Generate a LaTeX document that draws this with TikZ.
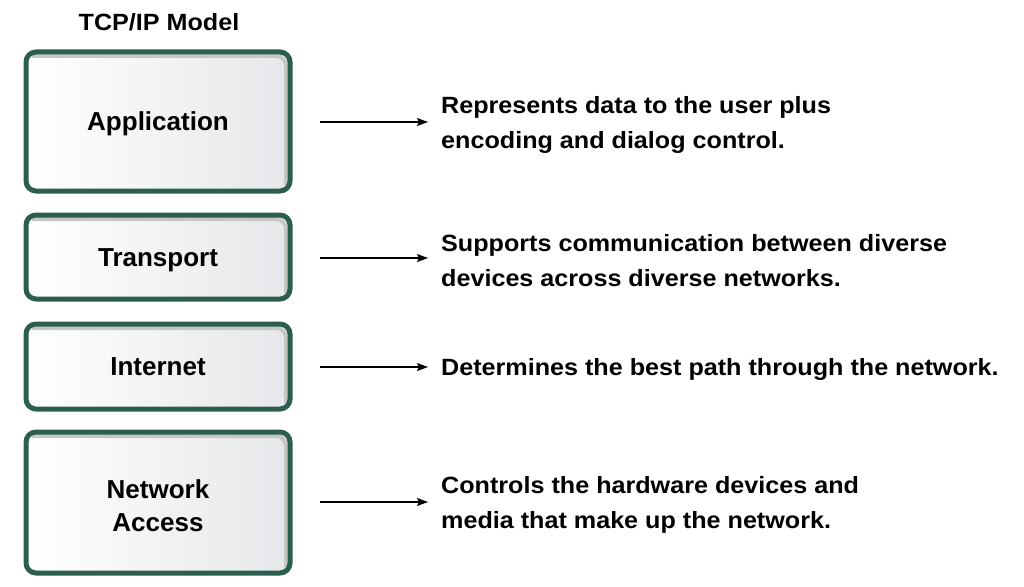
\documentclass[tikz,border=0pt]{standalone}
\usepackage{fontspec}
\setmainfont{Liberation Sans}
\newfontfamily\widesans[FakeStretch=1.07]{Liberation Sans}
\usepackage{tikz}
\usetikzlibrary{arrows.meta,positioning,calc}
\definecolor{layergreen}{RGB}{44,94,80}
\definecolor{layerfill}{RGB}{230,231,234}
\tikzset{%
	layer/.style = {draw=layergreen, line width=5pt, rounded corners=10pt, minimum width=264pt, left color=white, right color=layerfill, align=center, text height=18.5pt, text depth=0pt, font=\fontsize{26}{33}\selectfont\bfseries,
		path picture={\draw[gray!45, line width=4pt] ([shift={(6pt,-4pt)}]path picture bounding box.north west) -- ([shift={(-4pt,-4pt)}]path picture bounding box.north east) -- ([shift={(-4pt,6pt)}]path picture bounding box.south east);}},
	desc/.style  = {anchor=west, inner sep=0pt, align=left, font=\widesans\fontsize{23.5}{35}\selectfont\bfseries},
	arrow/.style = {line width=1.2pt, -{Stealth[length=11pt,width=8pt,inset=2pt]}, shorten >=13pt},
}
\begin{document}
\begin{tikzpicture}[x=1pt,y=-1pt]
	\useasboundingbox (0,0) rectangle (1024,586);
	\node[font=\widesans\fontsize{23.5}{28}\selectfont\bfseries] (title) at (159,22) {TCP/IP Model};
	% layers
	\node[layer, minimum height=139pt] (app) at (158,121.5) {Application};
	\node[layer, minimum height=84pt] (trans) at (158,257) {Transport};
	\node[layer, minimum height=85pt] (inet) at (158,366.5) {Internet};
	\node[layer, minimum height=141pt, text height=57pt] (netacc) at (158,502.5) {Network\\Access};
	% descriptions
	\node[desc] (appdesc) at (441,124.5) {Represents data to the user plus\\encoding and dialog control.};
	\node[desc] (transdesc) at (441,260.5) {Supports communication between diverse\\devices across diverse networks.};
	\node[desc] (inetdesc) at (441,369.5) {Determines the best path through the network.};
	\node[desc] (netaccdesc) at (441,504.5) {Controls the hardware devices and\\media that make up the network.};
	\coordinate (appout) at (320,122);
	\coordinate (transout) at (320,258);
	\coordinate (inetout) at (320,367);
	\coordinate (netaccout) at (320,502);
	\draw[arrow] (appout) -- (appout -| appdesc.west);
	\draw[arrow] (transout) -- (transout -| transdesc.west);
	\draw[arrow] (inetout) -- (inetout -| inetdesc.west);
	\draw[arrow] (netaccout) -- (netaccout -| netaccdesc.west);
\end{tikzpicture}
\end{document}
